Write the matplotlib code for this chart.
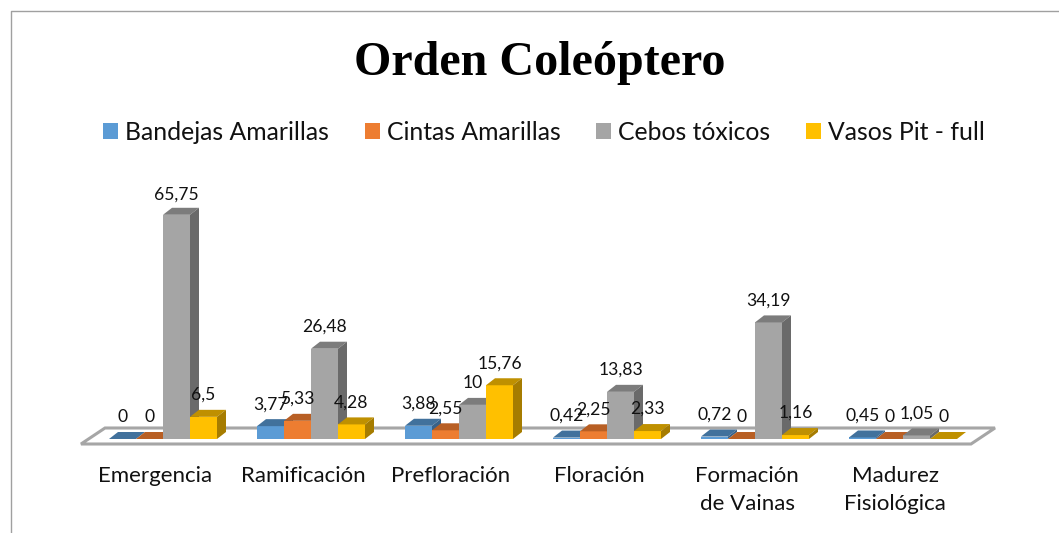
import matplotlib.pyplot as plt
from matplotlib.lines import Line2D
from matplotlib.patches import Polygon

plt.rcParams['font.family'] = ['Lato', 'DejaVu Sans']

categories = ['Emergencia', 'Ramificación', 'Prefloración', 'Floración',
              'Formación\nde Vainas', 'Madurez\nFisiológica']
series = ['Bandejas Amarillas', 'Cintas Amarillas', 'Cebos tóxicos', 'Vasos Pit - full']
bandejas = [0, 3.77, 3.88, 0.42, 0.72, 0.45]
cintas = [0, 5.33, 2.55, 2.25, 0, 0]
cebos = [65.75, 26.48, 10, 13.83, 34.19, 1.05]
vasos = [6.5, 4.28, 15.76, 2.33, 1.16, 0]
labels = [['0', '3,77', '3,88', '0,42', '0,72', '0,45'],
          ['0', '5,33', '2,55', '2,25', '0', '0'],
          ['65,75', '26,48', '10', '13,83', '34,19', '1,05'],
          ['6,5', '4,28', '15,76', '2,33', '1,16', '0']]
colors = ['#5B9BD5', '#ED7D31', '#A5A5A5', '#FFC000']
tops = ['#41719C', '#B85F24', '#7C7C7C', '#BF9000']
sides = ['#386289', '#A05220', '#6A6A6A', '#A67C00']

W, H = 1059, 533
fig = plt.figure(figsize=(W / 100, H / 100), dpi=100)

# axes baseline at y=439px, one category = 148px, one unit = 3.41px
px_y = 3.41
px_x = 148
ymax = 70
ax = fig.add_axes([0, (H - 439) / H, 1, ymax * px_y / H])
ax.set_xlim(-163 / px_x, (W - 163) / px_x)
ax.set_ylim(0, ymax)
for sp in ax.spines.values():
    sp.set_visible(False)
ax.yaxis.set_visible(False)
ax.patch.set_alpha(0)

# floor of the 3d chart
floor = Polygon([(-82 / px_x, -5 / px_y), (808 / px_x, -5 / px_y),
                 (832 / px_x, 11 / px_y), (-58 / px_x, 11 / px_y)],
                closed=True, fc='white', ec='#A6A6A6', lw=2.2, clip_on=False, zorder=1)
ax.add_patch(floor)

w = 27 / px_x
dx = 9 / px_x
dy = 7 / px_y
for s, vals in enumerate([bandejas, cintas, cebos, vasos]):
    xs = [i + (s - 1.5) * w for i in range(len(categories))]
    ax.bar(xs, vals, width=w, color=colors[s], label=series[s], zorder=3 + s, clip_on=False)
    for i, (x, v) in enumerate(zip(xs, vals)):
        l, r = x - w / 2, x + w / 2
        ax.add_patch(Polygon([(l, v), (r, v), (r + dx, v + dy), (l + dx, v + dy)],
                             fc=tops[s], ec='none', zorder=3 + s, clip_on=False))
        ax.add_patch(Polygon([(r, 0), (r + dx, dy), (r + dx, v + dy), (r, v)],
                             fc=sides[s], ec='none', zorder=3 + s, clip_on=False))
        off = 20 if v > 60 else 22
        ax.annotate(labels[s][i], (x, v), xytext=(0, off * 0.72), textcoords='offset points',
                    ha='center', va='center', fontsize=12.6, color='#111111', zorder=10,
                    annotation_clip=False)

ax.set_xticks([i - 8 / px_x for i in range(len(categories))])
ax.set_xticklabels(categories, fontsize=16, color='#111111', linespacing=1.5)
ax.tick_params(axis='x', length=0, pad=19.5)

ax.legend(loc='center', bbox_to_anchor=(544 / W, (H - 132) / H), bbox_transform=fig.transFigure,
          ncols=4, frameon=False, fontsize=17.8, labelcolor='#111111',
          handlelength=0.6, handleheight=0.6, handletextpad=0.28, columnspacing=1.46,
          borderpad=0, borderaxespad=0)

fig.text(539.5 / W, (H - 63) / H, 'Orden Coleóptero', family='Liberation Serif',
         weight='bold', fontsize=34.6, color='black', ha='center', va='center')

# outer chart border: only left and top edges are in the crop
fig.add_artist(Line2D([10.5 / W, 10.5 / W, 1], [0, (H - 10.5) / H, (H - 10.5) / H],
                      color='#A0A0A0', lw=1.0))

fig.savefig('out.png', dpi=100)
